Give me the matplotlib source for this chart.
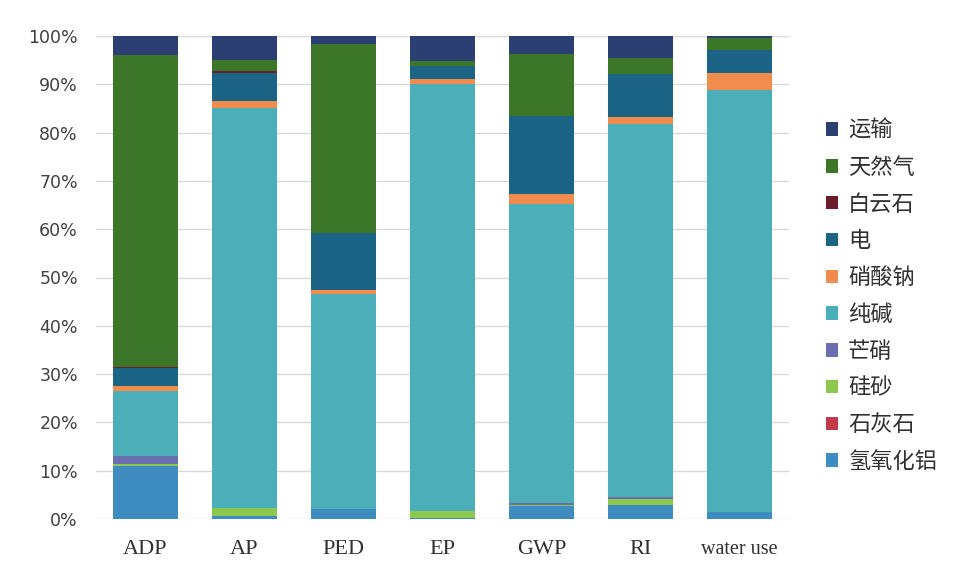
import matplotlib
matplotlib.use("Agg")
import matplotlib.pyplot as plt
from matplotlib.ticker import PercentFormatter
import numpy as np

categories = ["ADP", "AP", "PED", "EP", "GWP", "RI", "water use"]
series_names = ["氢氧化铝", "石灰石", "硅砂", "芒硝", "纯碱", "硝酸钠", "电", "白云石", "天然气", "运输"]

al_hydroxide = [11.0, 0.6, 2.0, 0.3, 2.7, 2.9, 1.5]
limestone    = [0.0, 0.0, 0.0, 0.0, 0.0, 0.0, 0.0]
silica_sand  = [0.4, 1.6, 0.0, 1.3, 0.3, 1.2, 0.0]
mirabilite   = [1.6, 0.1, 0.0, 0.0, 0.3, 0.4, 0.0]
soda_ash     = [13.4, 82.7, 44.6, 88.4, 61.9, 77.2, 87.3]
sodium_nitrate = [1.1, 1.5, 0.8, 1.0, 2.1, 1.6, 3.5]
electricity  = [3.7, 5.8, 11.8, 2.8, 16.1, 8.9, 4.7]
dolomite     = [0.3, 0.4, 0.1, 0.0, 0.0, 0.0, 0.0]
natural_gas  = [64.5, 2.3, 39.0, 1.0, 12.9, 3.3, 2.6]
transport    = [4.0, 5.0, 1.7, 5.2, 3.7, 4.5, 0.4]

series = [al_hydroxide, limestone, silica_sand, mirabilite, soda_ash,
          sodium_nitrate, electricity, dolomite, natural_gas, transport]
colors = ["#3F8CC0", "#C03A4A", "#8CC84E", "#6A6DB0", "#4BAEB9",
          "#F08C4E", "#1B6486", "#6B1D2C", "#3B7629", "#2B3F72"]

fig = plt.figure(figsize=(9.64, 5.77), dpi=100)
ax = fig.add_axes([96/964, 1-519/577, (789-96)/964, (519-36)/577])

x = np.arange(len(categories))
bottom = np.zeros(len(categories))
handles = []
for name, vals, c in zip(series_names, series, colors):
    v = np.array(vals)
    h = ax.bar(x, v, 0.66, bottom=bottom, color=c, label=name, linewidth=0)
    handles.append(h)
    bottom += v

ax.set_xlim(-0.5, len(categories)-0.5)
ax.set_ylim(0, 100)
ax.set_yticks(np.arange(0, 101, 10))
ax.yaxis.set_major_formatter(PercentFormatter(decimals=0))
ax.grid(axis="y", color="#D9D9D9", linewidth=1)
ax.set_axisbelow(True)
for s in ax.spines.values():
    s.set_visible(False)
ax.tick_params(axis="both", length=0)
ax.tick_params(axis="y", labelsize=12.5, labelcolor="#404040", pad=13)
ax.set_xticks(x)
ax.set_xticklabels(categories, family="Liberation Serif", color="#303030")
for lbl, cat in zip(ax.get_xticklabels(), categories):
    lbl.set_fontsize(14.5 if cat == "water use" else 16)
ax.tick_params(axis="x", pad=15)
for lbl in ax.get_yticklabels():
    lbl.set_family("DejaVu Sans")

leg = fig.legend(handles[::-1], series_names[::-1], loc="center left",
                 bbox_to_anchor=(806/964, 1-296/577), frameon=False,
                 prop={"family": ["Noto Sans CJK SC", "DejaVu Sans"], "size": 16},
                 handlelength=0.55, handleheight=0.55, handletextpad=0.45,
                 labelspacing=0.62)
for t in leg.get_texts():
    t.set_color("#303030")

fig.savefig("out.png", dpi=100)
